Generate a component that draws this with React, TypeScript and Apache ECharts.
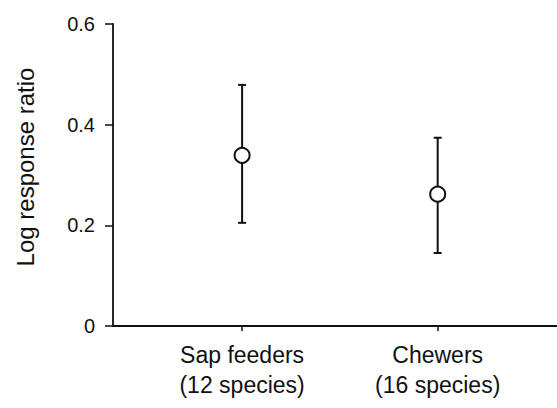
import React, { useEffect, useRef } from "react";
import * as echarts from "echarts";

const categories = ["Sap feeders\n(12 species)", "Chewers\n(16 species)"];
const positions = [1, 2];
const means = [0.339, 0.262];
const upper = [0.479, 0.374];
const lower = [0.205, 0.145];
const yTicks = [0, 0.2, 0.4, 0.6];

const FONT = "'Liberation Sans', Arial, sans-serif";

export default function App() {
  const ref = useRef<HTMLDivElement>(null);
  useEffect(() => {
    document.body.style.margin = "0";
    if (!ref.current) return;
    const chart = echarts.init(ref.current, null, { renderer: "svg" });
    const errData = positions.map((p, i) => [p, lower[i], upper[i]]);
    const meanData = positions.map((p, i) => [p, means[i]]);
    chart.setOption({
      animation: false,
      backgroundColor: "#ffffff",
      grid: { left: 113, right: 0, top: 24, bottom: 82, containLabel: false },
      xAxis: {
        type: "value",
        min: 0.34,
        max: 2.61,
        splitLine: { show: false },
        axisLine: { show: true, onZero: false, lineStyle: { color: "#111", width: 1.8 } },
        axisTick: {
          show: true,
          customValues: positions,
          length: 5,
          lineStyle: { color: "#111", width: 1.5 },
        },
        axisLabel: {
          customValues: positions,
          formatter: (v: number) => {
            const idx = positions.indexOf(Math.round(v));
            return idx >= 0 ? categories[idx] : "";
          },
          fontFamily: FONT,
          fontSize: 23,
          lineHeight: 30,
          color: "#111",
          margin: 14,
        },
      },
      yAxis: {
        type: "value",
        min: 0,
        max: 0.6,
        interval: 0.2,
        splitLine: { show: false },
        axisLine: { show: true, lineStyle: { color: "#111", width: 1.8 } },
        axisTick: { show: true, length: 8, lineStyle: { color: "#111", width: 1.5 } },
        axisLabel: {
          fontFamily: FONT,
          fontSize: 20,
          color: "#111",
          margin: 18,
          formatter: (v: number) => {
            const t = yTicks.find((y) => Math.abs(y - v) < 1e-6);
            return t === 0 ? "0" : (t ?? v).toFixed(1);
          },
        },
      },
      graphic: [
        {
          type: "text",
          x: 25,
          y: 167,
          rotation: Math.PI / 2,
          style: {
            text: "Log response ratio",
            fontFamily: FONT,
            fontSize: 24,
            fill: "#111",
            align: "center",
            verticalAlign: "middle",
          },
        },
      ],
      series: [
        {
          type: "custom",
          data: errData,
          z: 2,
          renderItem: (params: any, api: any) => {
            const x = api.value(0);
            const lo = api.coord([x, api.value(1)]);
            const hi = api.coord([x, api.value(2)]);
            const hw = 4;
            const style = { stroke: "#111", lineWidth: 2 };
            return {
              type: "group",
              children: [
                { type: "line", shape: { x1: lo[0], y1: lo[1], x2: hi[0], y2: hi[1] }, style },
                { type: "line", shape: { x1: hi[0] - hw, y1: hi[1], x2: hi[0] + hw, y2: hi[1] }, style },
                { type: "line", shape: { x1: lo[0] - hw, y1: lo[1], x2: lo[0] + hw, y2: lo[1] }, style },
              ],
            };
          },
        },
        {
          type: "scatter",
          data: meanData,
          z: 3,
          symbol: "circle",
          symbolSize: 15,
          itemStyle: { color: "#ffffff", borderColor: "#111", borderWidth: 2, opacity: 1 },
        },
      ],
    });
    return () => chart.dispose();
  }, []);
  return <div ref={ref} style={{ width: 557, height: 408 }} />;
}
